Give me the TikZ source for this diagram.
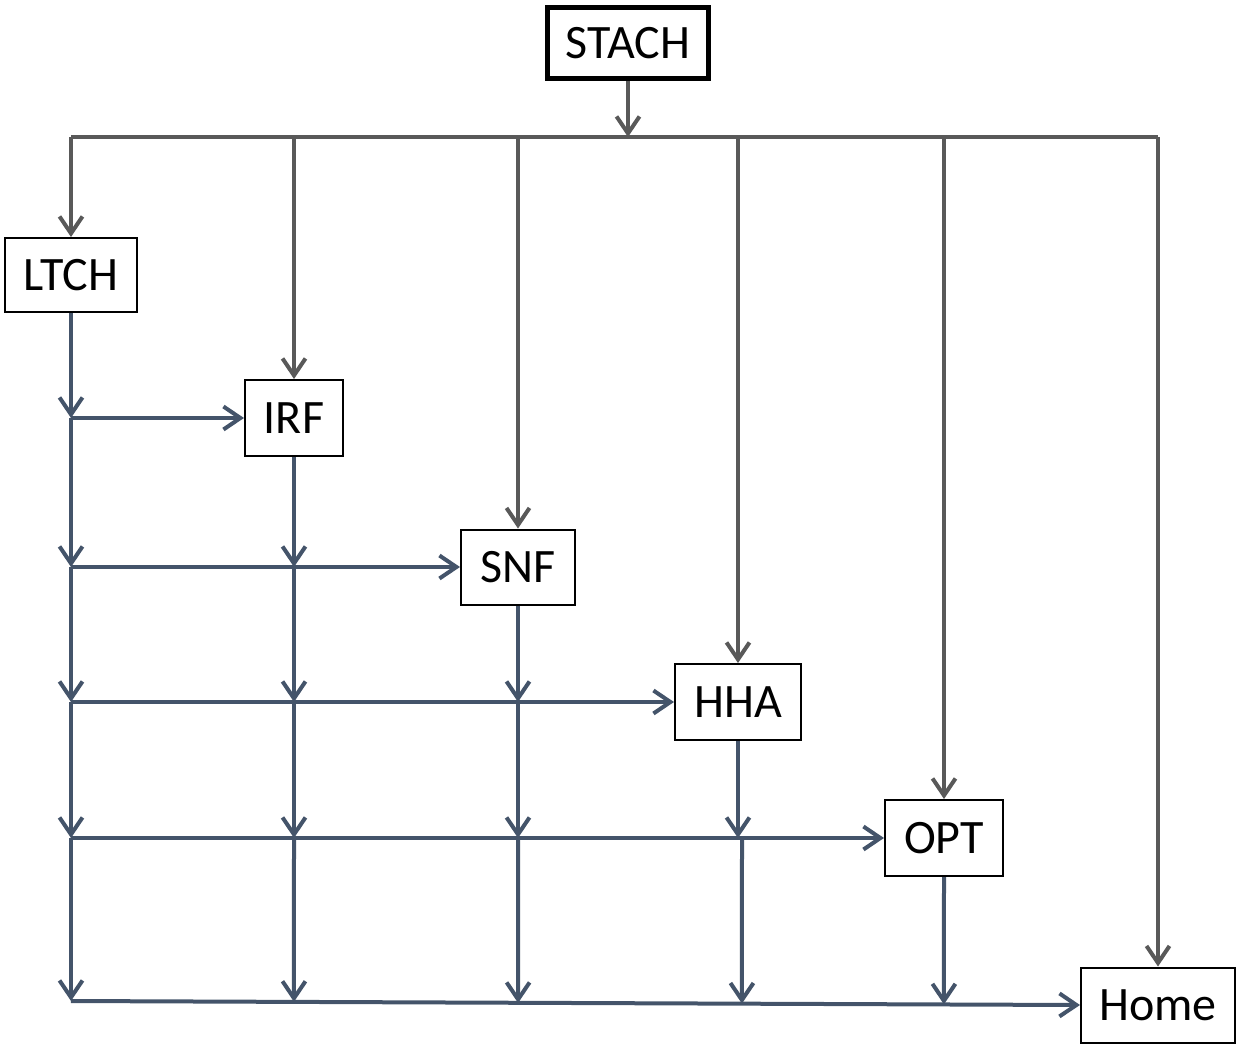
\documentclass[tikz,border=0pt]{standalone}
\usepackage{fontspec}
\setmainfont{Carlito}
\usetikzlibrary{arrows.meta,calc}
\definecolor{feedgray}{HTML}{595959}
\definecolor{flowblue}{HTML}{44546A}
\begin{document}
\begin{tikzpicture}[x=1pt,y=-1pt,
  box/.style={draw=black,line width=2pt,fill=white,inner sep=0pt,
    font=\fontsize{48}{56}\selectfont},
  tip/.style={-{Straight Barb[length=17pt,width=23pt]}},
  feed/.style={draw=feedgray,line width=4pt},
  flow/.style={draw=flowblue,line width=4pt}]
\useasboundingbox (0,0) rectangle (1237,1045);

% boxes
\node[box,line width=5pt,minimum width=161pt,minimum height=71pt] (stach) at (628,43) {STACH};
\node[box,minimum width=132pt,minimum height=74pt] (ltch) at (71,275) {LTCH};
\node[box,minimum width=98pt,minimum height=76pt] (irf) at (294,418) {IRF};
\node[box,minimum width=114pt,minimum height=75pt] (snf) at (518,567) {SNF};
\node[box,minimum width=126pt,minimum height=76pt] (hha) at (738,702) {HHA};
\node[box,minimum width=118pt,minimum height=76pt] (opt) at (944,838) {OPT};
\node[box,minimum width=154pt,minimum height=75pt] (home) at (1158,1005) {Home};

% distribution bar below STACH
\coordinate (barL) at (71,137);
\coordinate (barR) at (1158,137);
\path[feed] (barL) -- (barR);
\path[feed,tip] (stach.south) -- (stach.south |- barL);
\foreach \n in {ltch,irf,snf,hha,opt,home}
  \path[feed,tip] (\n.north |- barL) -- (\n.north);

% bottom collector row into Home
\coordinate (rowL) at (71,1001);
\path[flow,tip] (rowL) -- (home.west);

% LTCH column and the rows it feeds
\path[flow,tip] (ltch.south) -- (ltch |- irf);
\path[flow,tip] (ltch |- irf) -- (ltch |- snf);
\path[flow,tip] (ltch |- snf) -- (ltch |- hha);
\path[flow,tip] (ltch |- hha) -- (ltch |- opt);
\path[flow,tip] (ltch |- opt) -- (rowL);
\path[flow,tip] (ltch |- irf) -- (irf.west);
\path[flow,tip] (ltch |- snf) -- (snf.west);
\path[flow,tip] (ltch |- hha) -- (hha.west);
\path[flow,tip] (ltch |- opt) -- (opt.west);

% IRF column
\path[flow,tip] (irf.south) -- (irf |- snf);
\path[flow,tip] (irf |- snf) -- (irf |- hha);
\path[flow,tip] (irf |- hha) -- (irf |- opt);
\path[flow,tip] (irf |- opt) -- (intersection of irf.south--irf.center and rowL--home.west);

% SNF column
\path[flow,tip] (snf.south) -- (snf |- hha);
\path[flow,tip] (snf |- hha) -- (snf |- opt);
\path[flow,tip] (snf |- opt) -- (intersection of snf.south--snf.center and rowL--home.west);

% HHA column
\coordinate (hhaB) at ($(hha |- opt)+(4,0)$);
\coordinate (hhaT) at ($(hha.south)+(4,0)$);
\path[flow,tip] (hha.south) -- (hha |- opt);
\path[flow,tip] (hhaB) -- (intersection of hhaT--hhaB and rowL--home.west);

% OPT column
\path[flow,tip] (opt.south) -- (intersection of opt.south--opt.center and rowL--home.west);
\end{tikzpicture}
\end{document}
